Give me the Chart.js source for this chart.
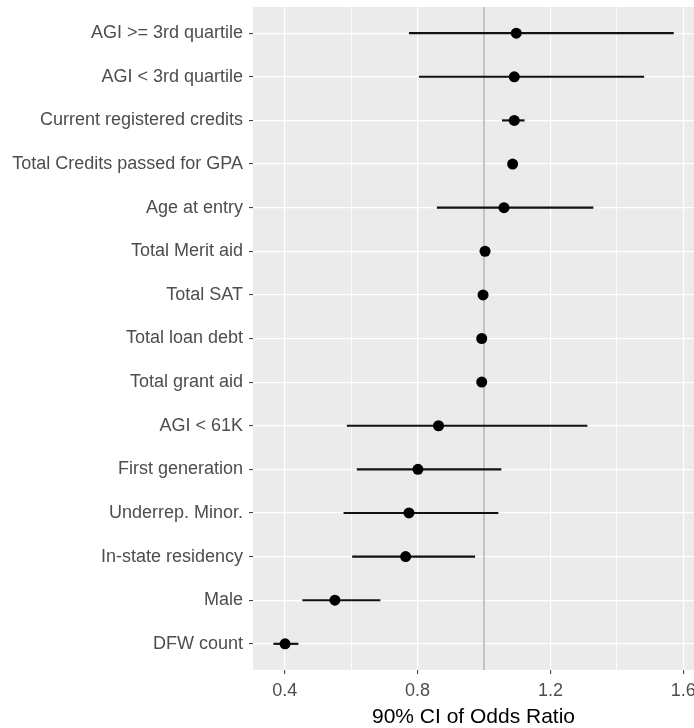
<!DOCTYPE html>
<html>
<head>
<meta charset="utf-8">
<script src="https://cdn.jsdelivr.net/npm/chart.js@4/dist/chart.umd.min.js"></script>
<style>
  html, body { margin: 0; padding: 0; background: #ffffff; }
  #wrap { position: relative; width: 694px; height: 728px; }
</style>
</head>
<body>
<div id="wrap"><canvas id="chart" width="694" height="728"></canvas></div>
<script>
// Predictors, listed top to bottom
const categories = [
  'AGI >= 3rd quartile',
  'AGI < 3rd quartile',
  'Current registered credits',
  'Total Credits passed for GPA',
  'Age at entry',
  'Total Merit aid',
  'Total SAT',
  'Total loan debt',
  'Total grant aid',
  'AGI < 61K',
  'First generation',
  'Underrep. Minor.',
  'In-state residency',
  'Male',
  'DFW count'
];

// Odds ratio estimates and 90% confidence bounds
const oddsRatio = [1.097, 1.091, 1.091, 1.086, 1.060, 1.003, 0.997, 0.993, 0.993, 0.863, 0.801, 0.774, 0.764, 0.551, 0.401];
const ciLower   = [0.775, 0.805, 1.055, 1.078, 0.859, 1.000, 0.994, 0.990, 0.990, 0.588, 0.618, 0.578, 0.604, 0.454, 0.367];
const ciUpper   = [1.570, 1.481, 1.121, 1.094, 1.328, 1.006, 1.000, 0.996, 0.996, 1.310, 1.051, 1.042, 0.972, 0.687, 0.440];

// Reference line (odds ratio of 1) and x-axis ticks
const referenceOR = 1.0;
const xMajorTicks = [0.4, 0.8, 1.2, 1.6];
const xMinorTicks = [0.6, 1.0, 1.4];
const xAxisTitle = '90% CI of Odds Ratio';

const rowIndex = categories.map((_, i) => i + 1);
const isMajor = v => xMajorTicks.some(t => Math.abs(t - v) < 1e-6);

// Grey panel behind the plotting area
const panelBackground = {
  id: 'panelBackground',
  beforeDraw(chart) {
    const { ctx, chartArea: a } = chart;
    ctx.save();
    ctx.fillStyle = '#EBEBEB';
    ctx.fillRect(a.left, a.top, a.right - a.left, a.bottom - a.top);
    ctx.restore();
  }
};

const tickFont = { family: '"Liberation Sans", Arial, sans-serif', size: 18 };

new Chart(document.getElementById('chart'), {
  type: 'bar',
  data: {
    datasets: [
      {
        type: 'scatter',
        label: 'Estimate',
        data: rowIndex.map((y, i) => ({ x: oddsRatio[i], y })),
        pointRadius: 5.5,
        pointHoverRadius: 5.5,
        pointBackgroundColor: '#000000',
        pointBorderColor: '#000000',
        pointBorderWidth: 0,
        order: 1
      },
      {
        type: 'bar',
        label: '90% CI',
        data: rowIndex.map((y, i) => ({ x: [ciLower[i], ciUpper[i]], y })),
        backgroundColor: '#111111',
        borderWidth: 0,
        barThickness: 1.5,
        order: 2
      },
      {
        type: 'line',
        label: 'Reference',
        data: [{ x: referenceOR, y: 0.4 }, { x: referenceOR, y: categories.length + 0.6 }],
        borderColor: '#ABABAB',
        borderWidth: 1.3,
        pointRadius: 0,
        fill: false,
        order: 3
      }
    ]
  },
  options: {
    indexAxis: 'y',
    responsive: false,
    animation: false,
    devicePixelRatio: 1,
    layout: { autoPadding: false, padding: { top: 7, right: 0, bottom: 0, left: 0 } },
    plugins: {
      legend: { display: false },
      tooltip: { enabled: false }
    },
    scales: {
      x: {
        type: 'linear',
        min: 0.3045,
        max: 1.632,
        offset: false,
        border: { display: false },
        afterBuildTicks(axis) {
          axis.ticks = [...xMajorTicks, ...xMinorTicks].sort((a, b) => a - b).map(v => ({ value: v }));
        },
        afterFit(axis) {
          axis.height = 58;
          axis.paddingLeft = 0;
          axis.paddingRight = 0;
        },
        grid: {
          offset: false,
          color: '#FFFFFF',
          lineWidth: ctx => (ctx.tick && isMajor(ctx.tick.value)) ? 1.2 : 0.8,
          tickColor: ctx => (ctx.tick && isMajor(ctx.tick.value)) ? '#333333' : 'rgba(0,0,0,0)',
          tickLength: 4,
          tickWidth: 1,
          drawTicks: true
        },
        ticks: {
          autoSkip: false,
          maxRotation: 0,
          padding: 6,
          color: '#4D4D4D',
          font: tickFont,
          callback: v => isMajor(v) ? v.toFixed(1) : ''
        },
        title: {
          display: true,
          text: xAxisTitle,
          color: '#000000',
          font: { family: '"Liberation Sans", Arial, sans-serif', size: 21 },
          padding: { top: 0, bottom: -2 }
        }
      },
      y: {
        type: 'linear',
        reverse: true,
        min: 0.4,
        max: categories.length + 0.6,
        offset: false,
        border: { display: false },
        afterBuildTicks(axis) {
          axis.ticks = rowIndex.map(v => ({ value: v }));
        },
        afterFit(axis) {
          axis.width = 253;
          axis.paddingTop = 0;
          axis.paddingBottom = 0;
        },
        grid: {
          offset: false,
          color: '#FFFFFF',
          lineWidth: 1.2,
          tickColor: '#333333',
          tickLength: 4,
          tickWidth: 1,
          drawTicks: true
        },
        ticks: {
          autoSkip: false,
          padding: 6,
          color: '#4D4D4D',
          font: tickFont,
          callback: v => categories[Math.round(v) - 1] || ''
        }
      }
    }
  },
  plugins: [panelBackground]
});
</script>
</body>
</html>
